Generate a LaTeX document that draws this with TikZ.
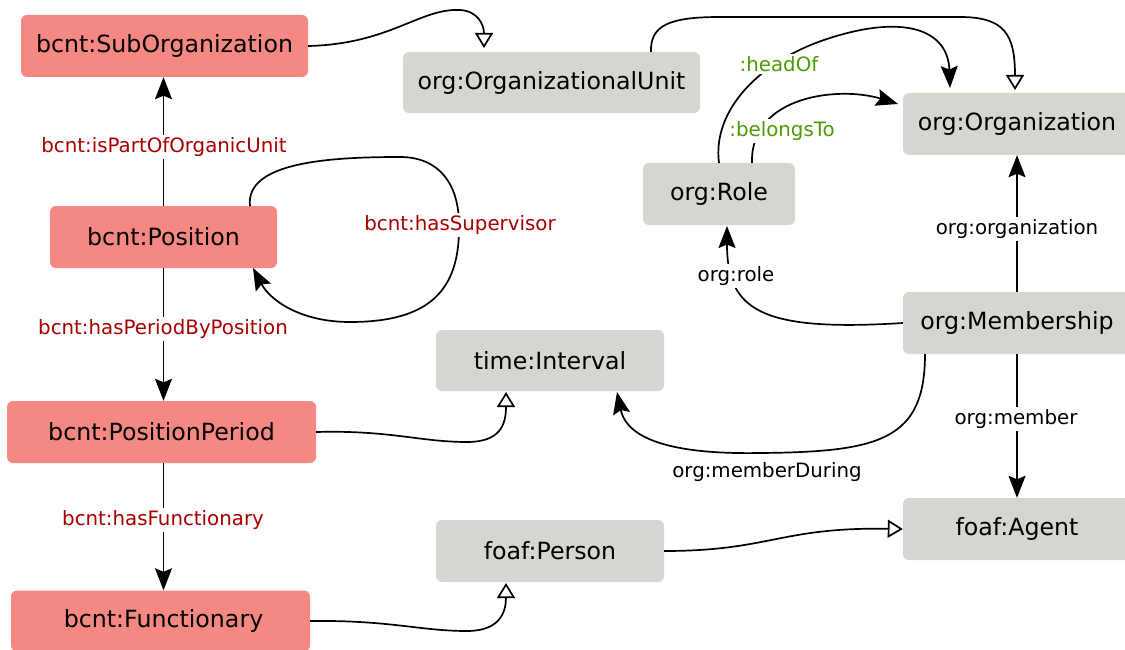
\documentclass[tikz,border=0pt]{standalone}
\usepackage{fontspec}
\setmainfont{DejaVu Sans}
\usetikzlibrary{arrows.meta}
\definecolor{bcntfill}{HTML}{F68884}
\definecolor{orgfill}{HTML}{D3D7CF}
\definecolor{bcntlabel}{HTML}{A80000}
\definecolor{greenlabel}{HTML}{4E9A06}
\begin{document}
\begin{tikzpicture}[x=1pt,y=-1pt,
  box/.style={rounded corners=6pt, inner sep=0pt, font=\fontsize{23.7}{26}\selectfont, text=black},
  bcnt/.style={box, fill=bcntfill},
  orgc/.style={box, fill=orgfill},
  lbl/.style={font=\fontsize{19.8}{22}\selectfont, inner sep=2pt},
  redlbl/.style={lbl, text=bcntlabel, fill=white},
  blklbl/.style={lbl, text=black, fill=white},
  grnlbl/.style={lbl, text=greenlabel, fill=white},
  edge/.style={line width=1.7pt, -{Stealth[length=22pt, width=17pt, inset=3.5pt]}},
  isa/.style={line width=1.7pt, -{Triangle[open, length=15pt, width=18pt, line width=1.7pt]}},
]
\useasboundingbox (0,0) rectangle (1125,650);

% classes of the bcnt vocabulary
\node[bcnt, minimum width=287pt, minimum height=62pt] (suborg) at (164.5,46) {bcnt:SubOrganization};
\node[bcnt, minimum width=227pt, minimum height=62pt] (pos) at (163.5,237) {bcnt:Position};
\node[bcnt, minimum width=309pt, minimum height=62pt] (period) at (161.5,432) {bcnt:PositionPeriod};
\node[bcnt, minimum width=299pt, minimum height=61pt] (func) at (160.5,621) {\hspace*{6pt}bcnt:Functionary};

% classes of the org, time and foaf vocabularies
\node[orgc, minimum width=297pt, minimum height=61pt] (unit) at (551.5,82.5) {org:OrganizationalUnit};
\node[orgc, minimum width=228pt, minimum height=62pt] (orgz) at (1017,124) {org:Organization};
\node[orgc, minimum width=152pt, minimum height=62pt] (role) at (719,194) {org:Role};
\node[orgc, minimum width=228pt, minimum height=62pt] (memb) at (1017,323) {org:Membership};
\node[orgc, minimum width=228pt, minimum height=61pt] (interval) at (550,360.5) {time:Interval};
\node[orgc, minimum width=228pt, minimum height=62pt] (agent) at (1017,529) {foaf:Agent};
\node[orgc, minimum width=228pt, minimum height=62pt] (person) at (550,551) {foaf:Person};

% subclass links
\draw[isa] (suborg.east) .. controls (390,44) and (420,8) .. (460,10)
  .. controls (478,11) and (484,25) .. (484,48);
\draw[isa] (651,52) .. controls (650,25) and (670,17) .. (720,17)
  -- (960,17) .. controls (1005,17) and (1015,35) .. (1015,90);
\draw[isa] (period.east) .. controls (390,430) and (420,442) .. (467,442)
  .. controls (500,442) and (506,425) .. (506,392);
\draw[isa] (func.east) .. controls (390,620) and (420,631) .. (467,631)
  .. controls (500,631) and (506,612) .. (506,583);
\draw[isa] (person.east) .. controls (770,551) and (780,527) .. (agent.west);

% bcnt properties
\draw[edge] (pos.north) -- (pos.north |- suborg.south);
\draw[edge] (pos.south) -- (pos.south |- period.north);
\draw[edge] (pos.south |- period.south) -- (pos.south |- func.north);
\draw[edge] (250,206) .. controls (245,162) and (330,157) .. (400,157)
  .. controls (440,157) and (459,185) .. (459,225)
  .. controls (460,290) and (430,322) .. (350,322)
  .. controls (300,322) and (270,300) .. (253,268);

% org properties
\draw[edge] (719,163) .. controls (712,110) and (760,60) .. (830,38)
  .. controls (905,14) and (948,30) .. (950,88);
\draw[edge] (752,163) .. controls (750,95) and (840,86) .. (898,104);
\draw[edge] (memb.north) -- (orgz.south);
\draw[edge] (memb.west) .. controls (760,332) and (727,310) .. (727,226);
\draw[edge] (925,354) .. controls (925,440) and (880,452) .. (760,453)
  .. controls (650,455) and (625,430) .. (617,392);
\draw[edge] (memb.south) -- (agent.north);

% property labels
\node[redlbl] (l-part) at (164,147) {bcnt:isPartOfOrganicUnit};
\node[redlbl] (l-sup) at (460,225) {bcnt:hasSupervisor};
\node[redlbl] (l-period) at (163,329) {bcnt:hasPeriodByPosition};
\node[redlbl] (l-func) at (163,520) {bcnt:hasFunctionary};
\node[grnlbl] (l-head) at (779,64) {:headOf};
\node[grnlbl] (l-belongs) at (782,131) {:belongsTo};
\node[blklbl] (l-org) at (1017,229) {org:organization};
\node[blklbl] (l-role) at (736,276) {org:role};
\node[blklbl] (l-member) at (1016,419) {org:member};
\node[blklbl] (l-during) at (767,472) {org:memberDuring};
\end{tikzpicture}
\end{document}
